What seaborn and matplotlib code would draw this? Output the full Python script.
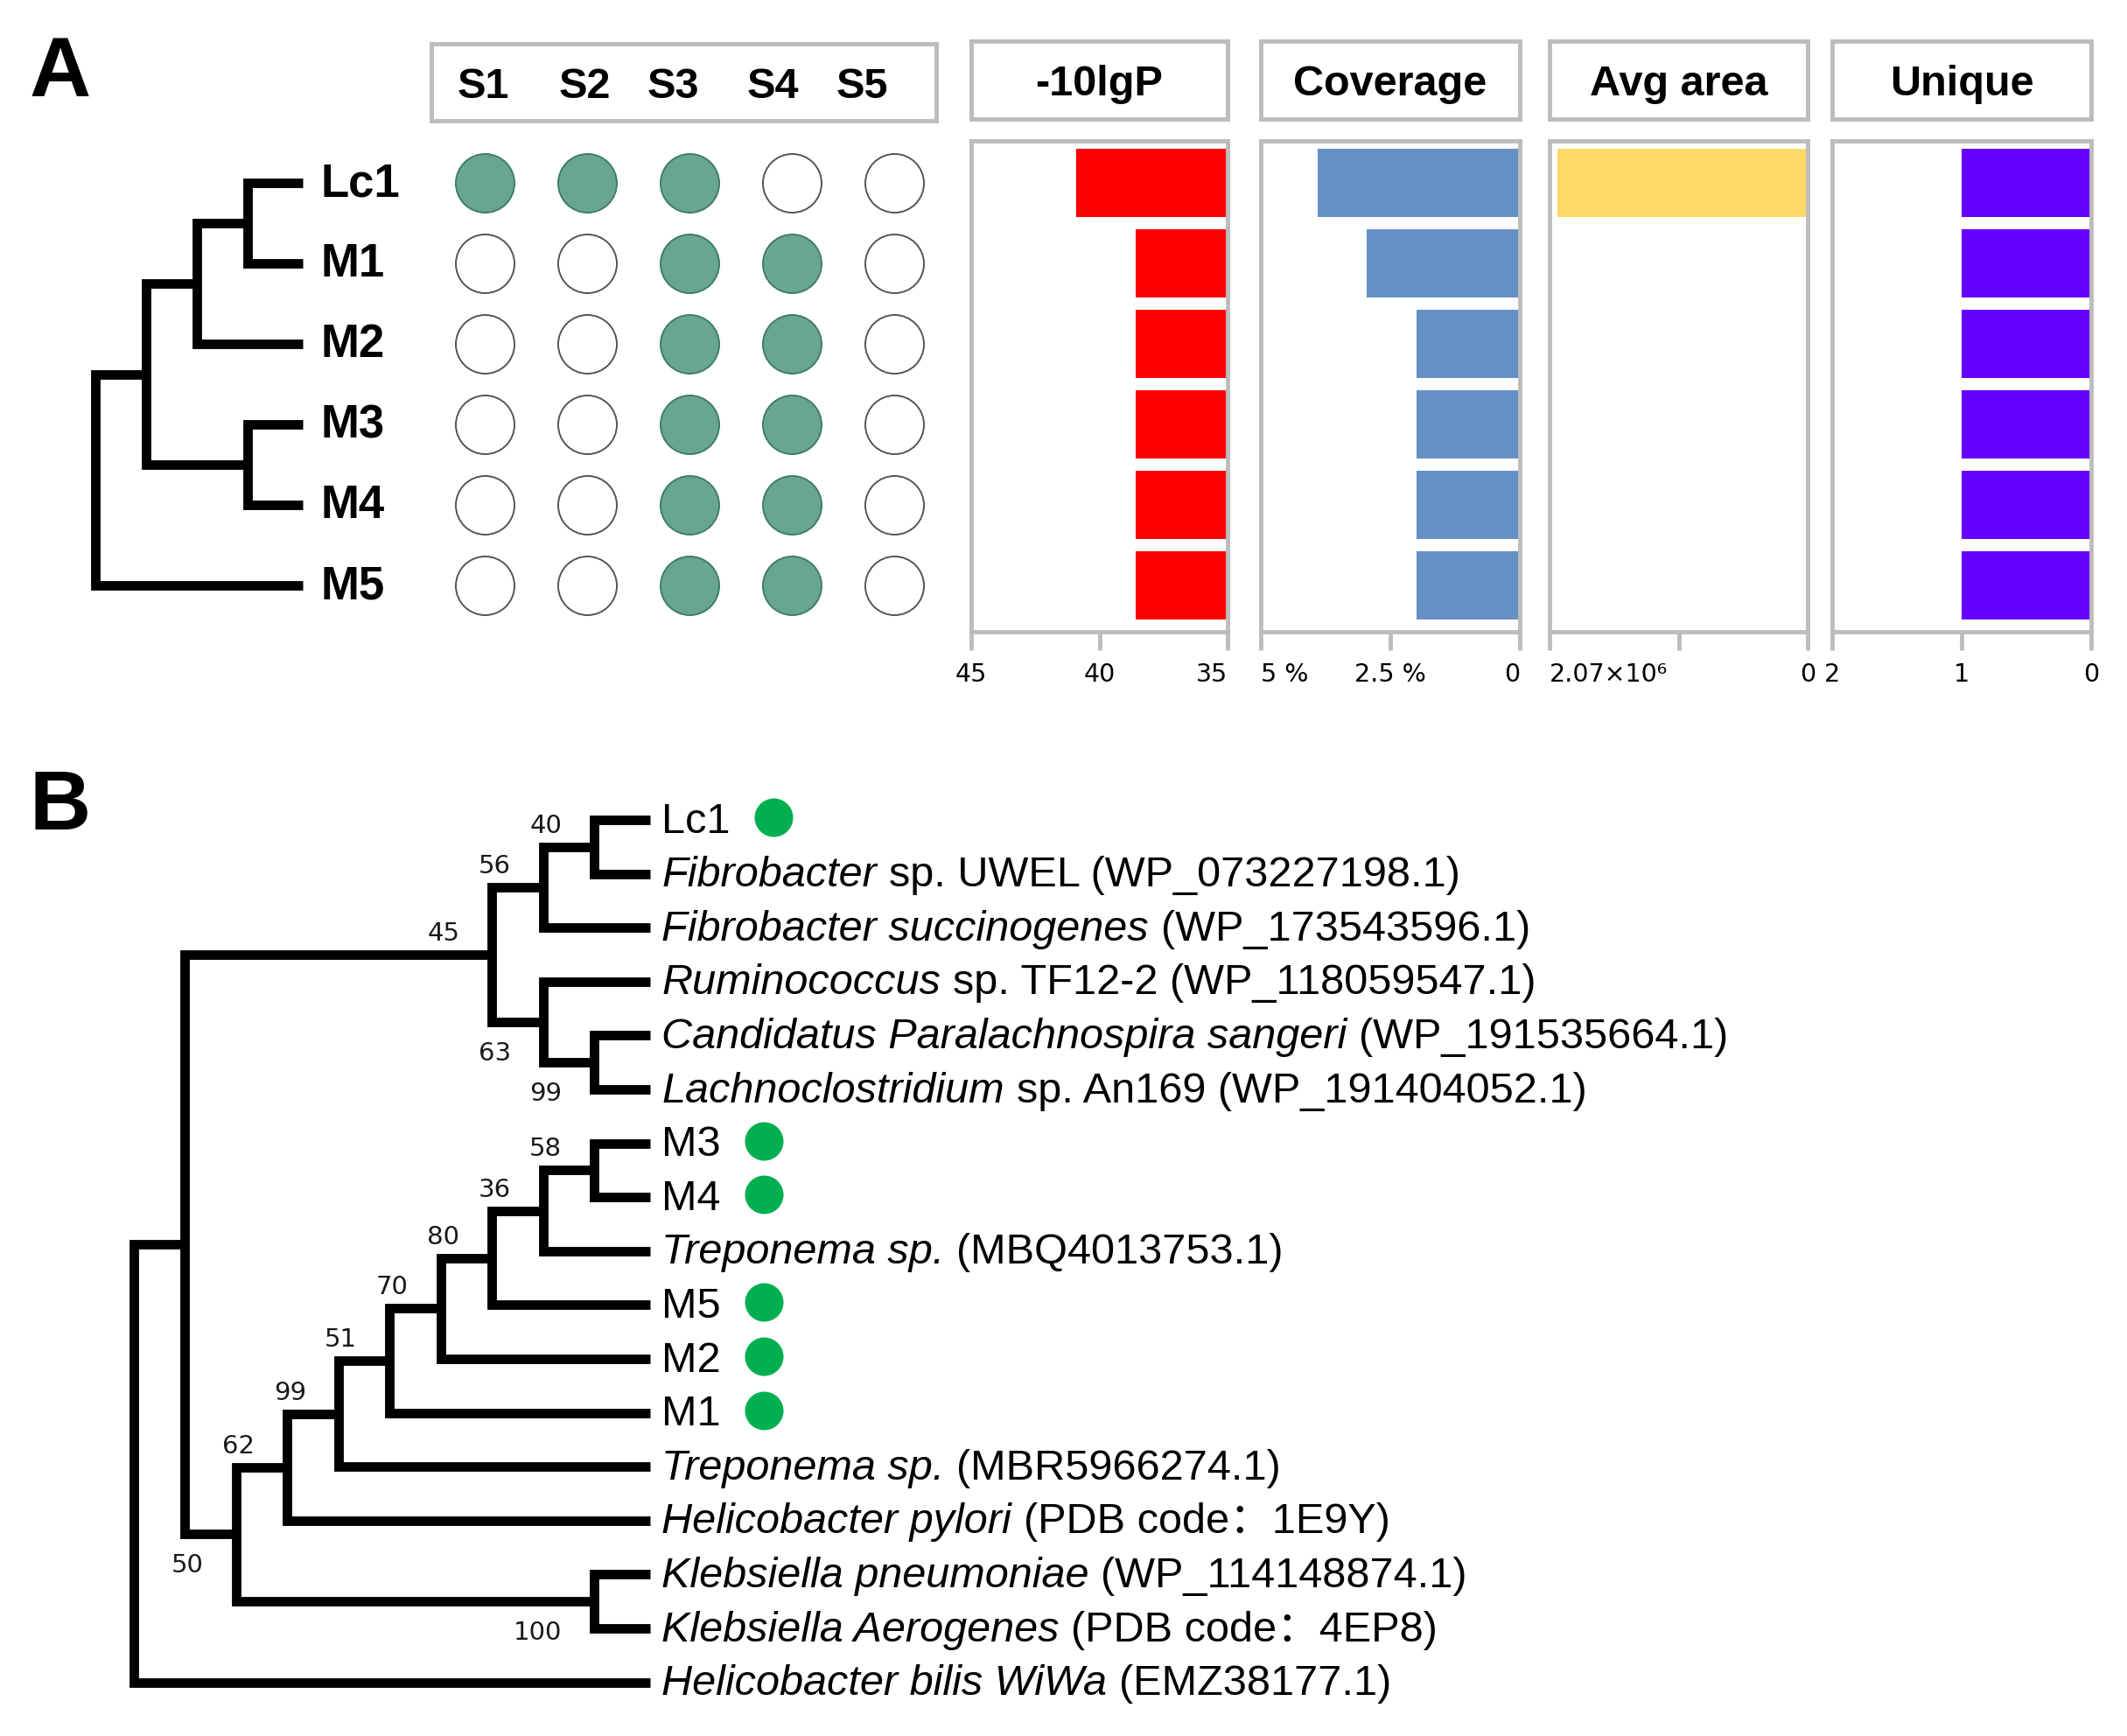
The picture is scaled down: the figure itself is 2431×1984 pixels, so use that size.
import pandas as pd
import seaborn as sns
import matplotlib.pyplot as plt

# ---------------- panel A data ----------------
proteins = ["Lc1", "M1", "M2", "M3", "M4", "M5"]
samples = ["S1", "S2", "S3", "S4", "S5"]
detected = [
    [1, 1, 1, 0, 0],
    [0, 0, 1, 1, 0],
    [0, 0, 1, 1, 0],
    [0, 0, 1, 1, 0],
    [0, 0, 1, 1, 0],
    [0, 0, 1, 1, 0],
]
neg10lgp = [40.9, 38.6, 38.6, 38.6, 38.6, 38.6]
coverage = [3.9, 2.95, 2.0, 2.0, 2.0, 2.0]
avg_area = [2.01e6, 0, 0, 0, 0, 0]
unique = [1, 1, 1, 1, 1, 1]

tree_a = (((("Lc1", "M1"), "M2"), ("M3", "M4")), "M5")

# ---------------- panel B data ----------------
b_italic = ["", "Fibrobacter", "Fibrobacter succinogenes", "Ruminococcus",
            "Candidatus Paralachnospira sangeri", "Lachnoclostridium", "", "",
            "Treponema sp.", "", "", "", "Treponema sp.", "Helicobacter pylori",
            "Klebsiella pneumoniae", "Klebsiella Aerogenes", "Helicobacter bilis WiWa"]
b_plain = ["Lc1", "sp. UWEL (WP_073227198.1)", "(WP_173543596.1)",
           "sp. TF12-2 (WP_118059547.1)", "(WP_191535664.1)",
           "sp. An169 (WP_191404052.1)", "M3", "M4", "(MBQ4013753.1)", "M5", "M2",
           "M1", "(MBR5966274.1)", "(PDB code：1E9Y)", "(WP_114148874.1)",
           "(PDB code：4EP8)", "(EMZ38177.1)"]
b_marked = [1, 0, 0, 0, 0, 0, 1, 1, 0, 1, 1, 1, 0, 0, 0, 0, 0]

# nodes: (left, right, bootstrap, label side)
tree_b = (
    (
        (((0, 1, 40, "up"), 2, 56, "up"),
         (3, (4, 5, 99, "down"), 63, "down"), 45, "up"),
        ((((((((6, 7, 58, "up"), 8, 36, "up"), 9, 80, "up"), 10, 70, "up"),
              11, 51, "up"), 12, 99, "up"), 13, 62, "up"),
         (14, 15, 100, "down"), 50, "down"),
    ),
    16,
)

# ---------------- style ----------------
sns.set_theme(style="white")
plt.rcParams["font.family"] = ["Liberation Sans", "DejaVu Sans", "Noto Sans CJK SC"]
plt.rcParams["text.color"] = "black"

W, H, DPI = 2431, 1984, 100
PX = 72 / DPI          # points per pixel
GRAY = "#bcbcbc"
TIP = 1.09             # terminal branch length, in clade steps
ROW0, DROW = 209, 92   # panel A row layout (pixels)

fig = plt.figure(figsize=(W / DPI, H / DPI), dpi=DPI)


def px_axes(x0, y0, x1, y1):
    return fig.add_axes([x0 / W, 1 - y1 / H, (x1 - x0) / W, (y1 - y0) / H])


def box_axes(x0, y0, x1, y1):
    ax = px_axes(x0, y0, x1, y1)
    ax.set_xticks([])
    ax.set_yticks([])
    for s in ax.spines.values():
        s.set_color(GRAY)
        s.set_linewidth(3.5)
    return ax


def place(node, nodes, order):
    if not isinstance(node, tuple):
        order.append(node)
        return 0, len(order) - 1
    h1, y1 = place(node[0], nodes, order)
    h2, y2 = place(node[1], nodes, order)
    h = max(h1, h2) + 1
    nodes.append({"h": h, "y": (y1 + y2) / 2, "kids": [(h1, y1), (h2, y2)],
                  "support": node[2] if len(node) > 2 else None,
                  "side": node[3] if len(node) > 3 else None})
    return h, (y1 + y2) / 2


def xpos(h):
    return 0.0 if h == 0 else -(TIP + h - 1)


def draw_tree(ax, tree):
    nodes, order = [], []
    place(tree, nodes, order)
    for n in nodes:
        (h1, y1), (h2, y2) = n["kids"]
        x = xpos(n["h"])
        ax.plot([xpos(h1), x, x, xpos(h2)], [y1, y1, y2, y2], color="black",
                lw=7.8, solid_joinstyle="miter", solid_capstyle="butt", clip_on=False)
    return nodes, order


# ---------------- panel A: tree ----------------
fig.text(34 / W, 1 - 110 / H, "A", fontsize=70, fontweight="bold", va="baseline")
fig.text(34 / W, 1 - 948 / H, "B", fontsize=70, fontweight="bold", va="baseline")

ya0, ya1 = ROW0 - DROW / 2, ROW0 + 5.5 * DROW
axt = px_axes(346 - 5.2 * 58, ya0, 346, ya1)
nodes_a, order_a = draw_tree(axt, tree_a)
for y, name in enumerate(order_a):
    axt.annotate(name, xy=(0, y), xytext=(21 * PX, 4 * PX), textcoords="offset points",
                 ha="left", va="center_baseline", fontsize=38, fontweight="bold",
                 annotation_clip=False)
axt.set_xlim(-5.2, 0)
axt.set_ylim(5.5, -0.5)
axt.axis("off")

# ---------------- panel A: detection matrix ----------------
hits = pd.DataFrame([(j, i, detected[i][j]) for i in range(len(proteins))
                     for j in range(len(samples))], columns=["col", "row", "hit"])
axd = px_axes(554 - 58.5, ya0, 1022 + 58.5, ya1)
sns.scatterplot(data=hits[hits.hit == 1], x="col", y="row", color="#69a68f",
                edgecolor="#3f7d66", linewidth=1.4, s=2330, ax=axd, legend=False)
sns.scatterplot(data=hits[hits.hit == 0], x="col", y="row", color="white",
                edgecolor="#555555", linewidth=1.4, s=2330, ax=axd, legend=False)
axd.set_xlim(-0.5, 4.5)
axd.set_ylim(5.5, -0.5)
axd.axis("off")

axs = box_axes(493, 50, 1070, 138)
axs.set_xlim(493, 1070)
axs.set_ylim(0, 1)
for s, x in zip(samples, [552, 668, 769, 883, 985]):
    axs.text(x, 0.5, s, ha="center", va="center_baseline", fontsize=35, fontweight="bold")

# ---------------- panel A: bar panels ----------------
panels = [
    ("-10lgP", neg10lgp, "#ff0000", (45, 35), [45, 40, 35], ["45", "40", "35"],
     ["center", "center", "right"], 1110, 1403),
    ("Coverage", coverage, "#6490c6", (5, 0), [5, 2.5, 0], ["5 %", "2.5 %", "0"],
     ["left", "center", "right"], 1441, 1737),
    ("Avg area", avg_area, "#ffd966", (2.07e6, 0), [2.07e6, 1.035e6, 0],
     ["2.07×10⁶", "", "0"], ["left", "center", "center"], 1771, 2066),
    ("Unique", unique, "#6600ff", (2, 0), [2, 1, 0], ["2", "1", "0"],
     ["center", "center", "center"], 2094, 2390),
]
for title, vals, color, xlim, ticks, labels, aligns, x0, x1 in panels:
    hb = box_axes(x0, 47, x1, 136)
    hb.text(0.5, 0.5, title, transform=hb.transAxes, ha="center",
            va="center_baseline", fontsize=35, fontweight="bold")

    ax = px_axes(x0, 161, x1, 722)
    sns.barplot(x=vals, y=proteins, orient="h", color=color, saturation=1,
                width=0.85, linewidth=0, errorbar=None, ax=ax)
    ax.set(xlabel="", ylabel="")
    ax.set_yticks([])
    ax.set_xlim(*xlim)
    ax.set_ylim((722 - ROW0) / DROW, (161 - ROW0) / DROW)
    ax.set_xticks(ticks, labels=labels)
    for lab, ha in zip(ax.get_xticklabels(), aligns):
        lab.set_ha(ha)
        lab.set_family("DejaVu Sans")
    ax.tick_params(axis="x", bottom=True, direction="out", length=15, width=3.5,
                   color=GRAY, pad=10, labelsize=20.5, labelcolor="black")
    for s in ax.spines.values():
        s.set_color(GRAY)
        s.set_linewidth(3.5)

# ---------------- panel B: tree ----------------
RB0, DRB = 937, 61.6
axb = px_axes(743 - 11 * 58.5, RB0 - DRB / 2, 743, RB0 + 16.5 * DRB)
nodes_b, order_b = draw_tree(axb, tree_b)
axb.set_xlim(-11, 0)
axb.set_ylim(16.5, -0.5)
axb.axis("off")

fam = ["Liberation Sans", "Noto Sans CJK SC", "DejaVu Sans"]
last_text = {}
for y, leaf in enumerate(order_b):
    segs = [(b_italic[leaf], "italic")] if b_italic[leaf] else []
    segs.append((b_plain[leaf], "normal"))
    prev = None
    for text, style in segs:
        kw = dict(fontsize=35, style=style, ha="left", textcoords="offset points",
                  family=fam, color="black", annotation_clip=False)
        if prev is None:
            prev = axb.annotate(text, xy=(0, y), xytext=(13 * PX, 3 * PX),
                                va="center_baseline", **kw)
        else:
            prev = axb.annotate(text, xy=(1, 0), xycoords=prev, xytext=(10, 0),
                                va="bottom", **kw)
    last_text[y] = prev

for n in nodes_b:
    if n["support"] is None:
        continue
    dy = 27 if n["side"] == "up" else -33
    axb.annotate(str(n["support"]), xy=(xpos(n["h"]), n["y"]),
                 xytext=(-37 * PX, dy * PX), textcoords="offset points",
                 ha="right", va="center_baseline", fontsize=21,
                 family="DejaVu Sans", color="#1a1a1a", annotation_clip=False)

# green markers after the sequences from this study
fig.canvas.draw()
inv = axb.transData.inverted()
mx, my = [], []
for y, leaf in enumerate(order_b):
    if b_marked[leaf]:
        bb = last_text[y].get_window_extent()
        mx.append(inv.transform((bb.x1 + 49, 0))[0])
        my.append(y - 0.05)
sns.scatterplot(x=mx, y=my, color="#00b050", s=1004, linewidth=0, ax=axb,
                legend=False, clip_on=False)
axb.set_xlim(-11, 0)
axb.set_ylim(16.5, -0.5)

fig.savefig("out.png", dpi=DPI)
